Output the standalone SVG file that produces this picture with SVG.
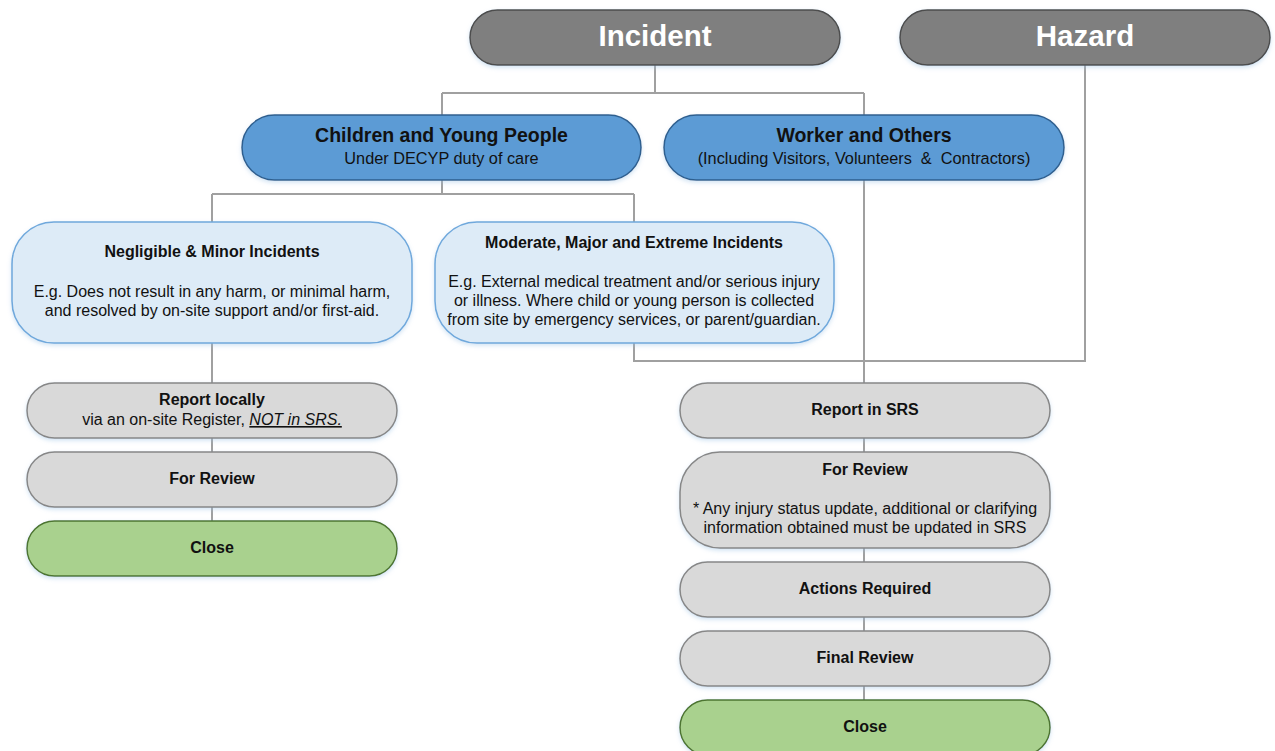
<svg xmlns="http://www.w3.org/2000/svg" width="1275" height="751" viewBox="0 0 1275 751">
<defs>
<filter id="sh" x="-10%" y="-20%" width="120%" height="150%">
<feDropShadow dx="0" dy="2" stdDeviation="2" flood-color="#9DC3E6" flood-opacity="0.45"/>
</filter>
<style>
text{font-family:"Liberation Sans",Arial,sans-serif;text-anchor:middle;fill:#111;white-space:pre}
.hdr rect{fill:#7F7F7F;stroke:#4D4D4D;stroke-width:1.5;filter:url(#sh)}
.hdr text{fill:#fff;font-weight:bold;font-size:29.5px}
.blue rect{fill:#5B9BD5;stroke:#2F5F8F;stroke-width:1.5;filter:url(#sh)}
.lb rect{fill:#DDEBF7;stroke:#6FA8DC;stroke-width:1.5;filter:url(#sh)}
.gr rect{fill:#D9D9D9;stroke:#878787;stroke-width:1.5;filter:url(#sh)}
.gn rect{fill:#A9D18E;stroke:#4E7530;stroke-width:1.5;filter:url(#sh)}
.t18{font-size:19.5px;font-weight:bold}
.s16{font-size:16.3px}
.b15{font-size:16px;font-weight:bold}
.r15{font-size:16px}
#conn path{fill:none;stroke:#A0A0A0;stroke-width:2}
</style>
</defs>
<g id="conn">
<path d="M655 65V93M442 93H864M442 93V115M864 93V115"/>
<path d="M442 180V194M212 194H634M212 194V222M634 194V222"/>
<path d="M212 343V383M212 438V452M212 507V521"/>
<path d="M634 343V361H1085V65"/>
<path d="M864 180V383M864 438V452M864 548V562M864 617V631M864 686V700"/>
</g>
<g id="incident" class="hdr"><rect x="470" y="10" width="370" height="55" rx="27.5"/><text x="655" y="46">Incident</text></g>
<g id="hazard" class="hdr"><rect x="900" y="10" width="370" height="55" rx="27.5"/><text x="1085" y="46">Hazard</text></g>
<g id="children" class="blue"><rect x="242" y="115" width="399" height="65" rx="32.5"/><text class="t18" x="441.5" y="142">Children and Young People</text><text class="s16" x="441.5" y="164">Under DECYP duty of care</text></g>
<g id="workers" class="blue"><rect x="664" y="115" width="400" height="65" rx="32.5"/><text class="t18" x="864" y="142">Worker and Others</text><text class="s16" x="864" y="164">(Including Visitors, Volunteers  &amp;  Contractors)</text></g>
<g id="negligible" class="lb"><rect x="12" y="222" width="400" height="121" rx="42"/><text class="b15" x="212" y="257">Negligible &amp; Minor Incidents</text><text class="r15" x="212" y="297">E.g. Does not result in any harm, or minimal harm,</text><text class="r15" x="212" y="316">and resolved by on-site support and/or first-aid.</text></g>
<g id="moderate" class="lb"><rect x="435" y="222" width="399" height="121" rx="42"/><text class="b15" x="634" y="248">Moderate, Major and Extreme Incidents</text><text class="r15" x="634" y="287">E.g. External medical treatment and/or serious injury</text><text class="r15" x="634" y="306">or illness. Where child or young person is collected</text><text class="r15" x="634" y="325">from site by emergency services, or parent/guardian.</text></g>
<g id="report-local" class="gr"><rect x="27" y="383" width="370" height="55" rx="27.5"/><text class="b15" x="212" y="405">Report locally</text><text class="r15" x="212" y="425">via an on-site Register, <tspan font-style="italic" text-decoration="underline">NOT in SRS.</tspan></text></g>
<g id="review-left" class="gr"><rect x="27" y="452" width="370" height="55" rx="27.5"/><text class="b15" x="212" y="484">For Review</text></g>
<g id="close-left" class="gn"><rect x="27" y="521" width="370" height="55" rx="27.5"/><text class="b15" x="212" y="553">Close</text></g>
<g id="report-srs" class="gr"><rect x="680" y="383" width="370" height="55" rx="27.5"/><text class="b15" x="865" y="415">Report in SRS</text></g>
<g id="review-right" class="gr"><rect x="680" y="452" width="370" height="96" rx="40"/><text class="b15" x="865" y="475">For Review</text><text class="r15" x="865" y="514">* Any injury status update, additional or clarifying</text><text class="r15" x="865" y="533">information obtained must be updated in SRS</text></g>
<g id="actions" class="gr"><rect x="680" y="562" width="370" height="55" rx="27.5"/><text class="b15" x="865" y="594">Actions Required</text></g>
<g id="final-review" class="gr"><rect x="680" y="631" width="370" height="55" rx="27.5"/><text class="b15" x="865" y="663">Final Review</text></g>
<g id="close-right" class="gn"><rect x="680" y="700" width="370" height="55" rx="27.5"/><text class="b15" x="865" y="732">Close</text></g>
</svg>
